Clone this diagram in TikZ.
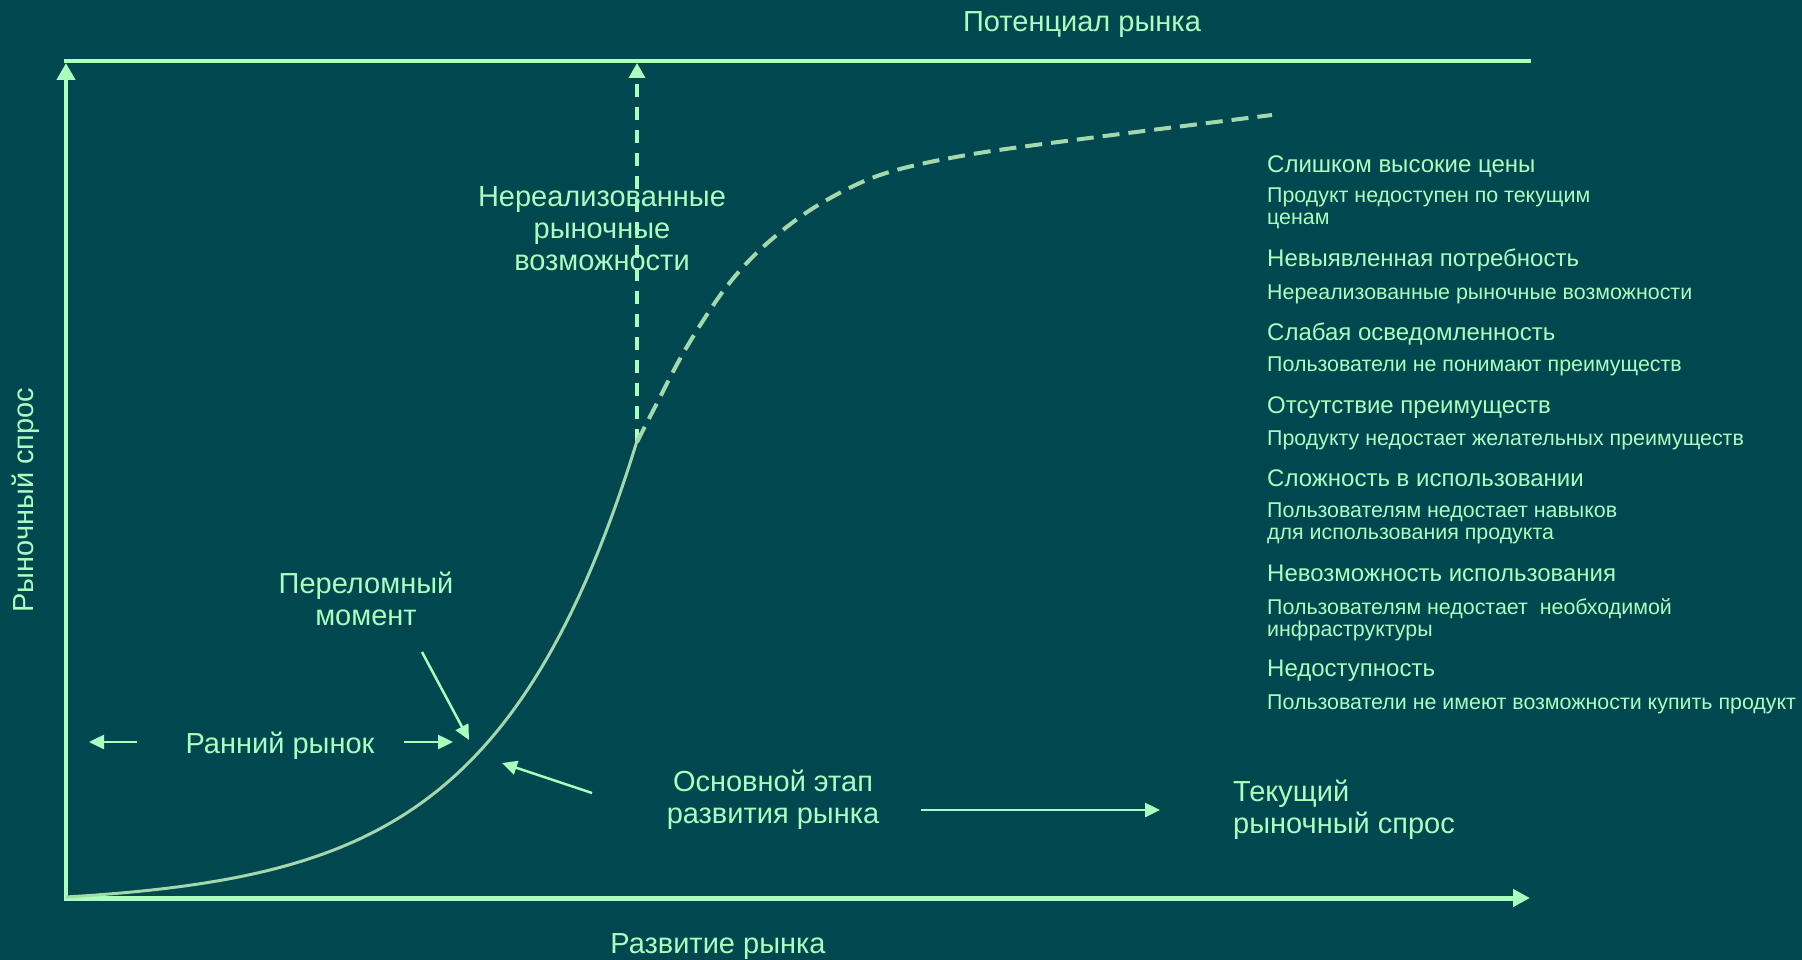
\documentclass[tikz,border=0pt]{standalone}
\usepackage{fontspec}
\setmainfont{Liberation Sans}
\usetikzlibrary{arrows.meta}
\definecolor{bgteal}{HTML}{004750}
\definecolor{mint}{HTML}{AAFEBE}
\definecolor{sage}{HTML}{A3D8AC}

\begin{document}
\begin{tikzpicture}[x=1pt,y=-1pt,
    big/.style={text=mint,font=\fontsize{29}{32}\selectfont,align=center,inner sep=0pt,anchor=base},
    head/.style={text=mint,font=\fontsize{24}{26}\selectfont,inner sep=0pt,anchor=base west},
    note/.style={text=mint,font=\fontsize{21.4}{22}\selectfont,align=left,inner sep=0pt,anchor=base west},
    pointer/.style={draw=mint,line width=2.5pt,-{Triangle[length=15pt,width=14pt]}}]

  \fill[bgteal] (0,0) rectangle (1802,960);
  \useasboundingbox (0,0) rectangle (1802,960);

  % axes and market potential line
  \coordinate (o)     at (63.75,898);
  \coordinate (ybase) at (66,900);
  \coordinate (ytop)  at (66,63);
  \coordinate (xend)  at (1530,898);
  \coordinate (pleft) at (64,61);
  \coordinate (pright) at (1531,61);
  \coordinate (kink)  at (637,442);
  \coordinate (gap)   at (637,63);

  \draw[mint,line width=4pt] (pleft) -- (pright);
  \draw[mint,line width=4.5pt,-{Triangle[length=17pt,width=18pt]}] (ybase) -- (ytop);
  \draw[mint,line width=5pt,-{Triangle[length=17pt,width=17pt]}] (o) -- (xend);
  \draw[mint,line width=3.3pt,dash pattern=on 13pt off 10pt,
        -{Triangle[length=15pt,width=16pt]}] (kink) -- (gap);

  % demand curve
  \draw[sage,line width=3pt] plot[domain=0:571,samples=90]
    ({66+\x},{897-8.515*(exp(0.007*\x)-1)});
  \draw[sage,line width=4pt,dash pattern=on 17pt off 9pt] plot[smooth,tension=0.55] coordinates {
    (kink) (655,407) (685,350) (724,290) (763,247) (815,207)
    (880,175) (967,155) (1097,137) (1272,115)};

  % labels
  \node[big] (potential) at (1082,32) {Потенциал рынка};
  \node[big] (growth)    at (718,953) {Развитие рынка};
  \node[big,rotate=90] (demand) at (33,500) {Рыночный спрос};
  \node[big] (unreal)    at (602,270) {Нереализованные\\рыночные\\возможности};
  \node[big] (turn)      at (366,625) {Переломный\\момент};
  \node[big] (early)     at (280,753) {Ранний рынок};
  \node[big] (mainstage) at (773,823) {Основной этап\\развития рынка};
  \node[big,align=left,anchor=base west] (current) at (1233,833) {Текущий\\рыночный спрос};

  % pointers
  \coordinate (eL) at (137,742);  \coordinate (eLtip) at (89,742);
  \coordinate (eR) at (404,742);  \coordinate (eRtip) at (453,742);
  \coordinate (tp) at (422,652);  \coordinate (tptip) at (469,740);
  \coordinate (ms) at (592,793);  \coordinate (mstip) at (502,763);
  \coordinate (cs) at (921,810);  \coordinate (cstip) at (1160,810);
  \path (eL) edge[pointer] (eLtip);
  \path (eR) edge[pointer] (eRtip);
  \path (tp) edge[pointer] (tptip);
  \path (ms) edge[pointer] (mstip);
  \path (cs) edge[pointer] (cstip);

  % barriers list
  \node[head] (h1) at (1267,172.5) {Слишком высокие цены};
  \node[note] (n1) at (1267,225) {Продукт недоступен по текущим\\ценам};
  \node[head] (h2) at (1267,266.5) {Невыявленная потребность};
  \node[note] (n2) at (1267,299) {Нереализованные рыночные возможности};
  \node[head] (h3) at (1267,340.5) {Слабая осведомленность};
  \node[note] (n3) at (1267,371) {Пользователи не понимают преимуществ};
  \node[head] (h4) at (1267,413.5) {Отсутствие преимуществ};
  \node[note] (n4) at (1267,445) {Продукту недостает желательных преимуществ};
  \node[head] (h5) at (1267,486.5) {Сложность в использовании};
  \node[note] (n5) at (1267,539) {Пользователям недостает навыков\\для использования продукта};
  \node[head] (h6) at (1267,581.5) {Невозможность использования};
  \node[note] (n6) at (1267,636) {Пользователям недостает\ \ необходимой\\инфраструктуры};
  \node[head] (h7) at (1267,676.5) {Недоступность};
  \node[note] (n7) at (1267,709) {Пользователи не имеют возможности купить продукт};

\end{tikzpicture}
\end{document}
